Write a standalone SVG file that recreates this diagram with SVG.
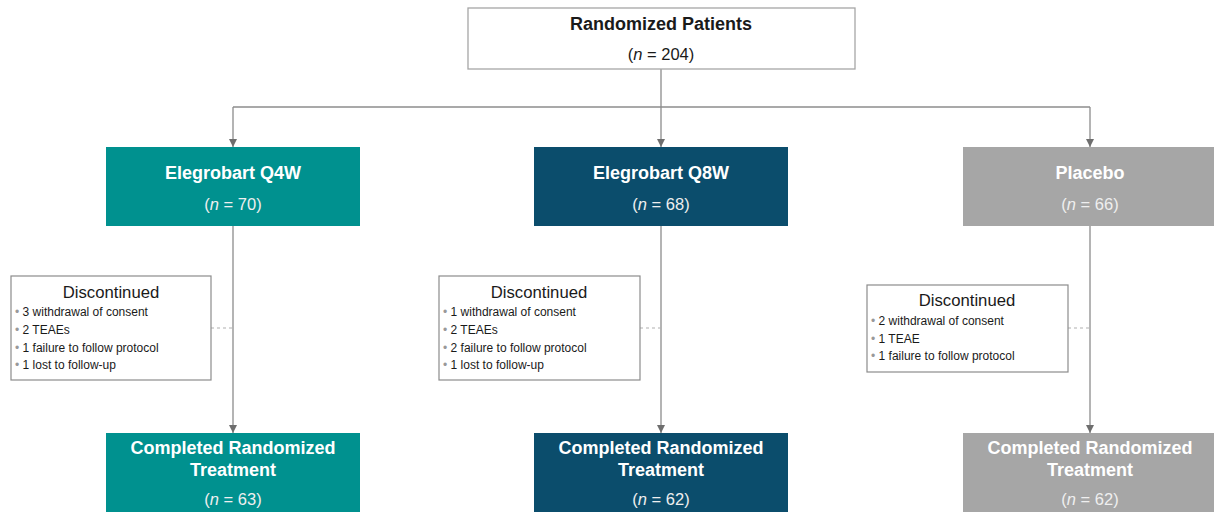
<svg xmlns="http://www.w3.org/2000/svg" width="1214" height="514" viewBox="0 0 1214 514">
<style>
text{font-family:"Liberation Sans",Arial,sans-serif}
.wb{fill:#fff;stroke:#a6a6a6;stroke-width:1.3}
.db{fill:#fff;stroke:#8c8c8c;stroke-width:1.2}
.teal{fill:#00918f}
.navy{fill:#0b4d6c}
.gray{fill:#a6a6a6}
.t1{font-size:18px;font-weight:bold;text-anchor:middle}
.t2{font-size:16.5px;text-anchor:middle}
.w{fill:#fff}
.k{fill:#1a1a1a}
.g{fill:#efefef}
.dh{font-size:16.7px;text-anchor:middle;fill:#1a1a1a}
.bl{font-size:12px;fill:#1a1a1a}
.bu{fill:#999}
.ln{stroke:#8c8c8c;stroke-width:1.3;fill:none}
.dash{stroke:#b0b0b0;stroke-width:1.2;stroke-dasharray:3 3;fill:none}
</style>
<defs>
<marker id="ah" viewBox="0 0 10 10" refX="10" refY="5" markerWidth="9" markerHeight="8" markerUnits="userSpaceOnUse" orient="auto">
<path d="M0,0 L10,5 L0,10 z" fill="#6e6e6e"/>
</marker>
</defs>
<g id="connectors">
<path class="ln" d="M661,69 V147" marker-end="url(#ah)"/>
<path class="ln" d="M233,107 H1090"/>
<path class="ln" d="M233,107 V147" marker-end="url(#ah)"/>
<path class="ln" d="M1090,107 V147" marker-end="url(#ah)"/>
<path class="ln" d="M233,226 V433" marker-end="url(#ah)"/>
<path class="ln" d="M661,226 V433" marker-end="url(#ah)"/>
<path class="ln" d="M1090,226 V433" marker-end="url(#ah)"/>
<path class="dash" d="M211,328 H233"/>
<path class="dash" d="M640,328 H661"/>
<path class="dash" d="M1068,328 H1090"/>
</g>
<g id="randomized">
<rect class="wb" x="468" y="8" width="387" height="61"/>
<text class="t1 k" x="661" y="30">Randomized Patients</text>
<text class="t2 k" x="661" y="60">(<tspan font-style="italic">n</tspan> = 204)</text>
</g>
<g id="q4w">
<rect class="teal" x="106" y="147" width="254" height="79"/>
<text class="t1 w" x="233" y="179">Elegrobart Q4W</text>
<text class="t2 g" x="233" y="210">(<tspan font-style="italic">n</tspan> = 70)</text>
</g>
<g id="q8w">
<rect class="navy" x="534" y="147" width="254" height="79"/>
<text class="t1 w" x="661" y="179">Elegrobart Q8W</text>
<text class="t2 g" x="661" y="210">(<tspan font-style="italic">n</tspan> = 68)</text>
</g>
<g id="placebo">
<rect class="gray" x="963" y="147" width="254" height="79"/>
<text class="t1 w" x="1090" y="179">Placebo</text>
<text class="t2 g" x="1090" y="210">(<tspan font-style="italic">n</tspan> = 66)</text>
</g>
<g id="disc-q4w">
<rect class="db" x="11" y="276" width="200" height="104"/>
<text class="dh" x="111" y="298">Discontinued</text>
<g class="bl">
<text x="15" y="316"><tspan class="bu">• </tspan>3 withdrawal of consent</text>
<text x="15" y="334"><tspan class="bu">• </tspan>2 TEAEs</text>
<text x="15" y="352"><tspan class="bu">• </tspan>1 failure to follow protocol</text>
<text x="15" y="369"><tspan class="bu">• </tspan>1 lost to follow-up</text>
</g>
</g>
<g id="disc-q8w">
<rect class="db" x="439" y="276" width="201" height="104"/>
<text class="dh" x="539" y="298">Discontinued</text>
<g class="bl">
<text x="443" y="316"><tspan class="bu">• </tspan>1 withdrawal of consent</text>
<text x="443" y="334"><tspan class="bu">• </tspan>2 TEAEs</text>
<text x="443" y="352"><tspan class="bu">• </tspan>2 failure to follow protocol</text>
<text x="443" y="369"><tspan class="bu">• </tspan>1 lost to follow-up</text>
</g>
</g>
<g id="disc-placebo">
<rect class="db" x="867" y="285" width="201" height="87"/>
<text class="dh" x="967" y="306">Discontinued</text>
<g class="bl">
<text x="871" y="325"><tspan class="bu">• </tspan>2 withdrawal of consent</text>
<text x="871" y="343"><tspan class="bu">• </tspan>1 TEAE</text>
<text x="871" y="360"><tspan class="bu">• </tspan>1 failure to follow protocol</text>
</g>
</g>
<g id="comp-q4w">
<rect class="teal" x="106" y="433" width="254" height="79"/>
<text class="t1 w" x="233" y="454">Completed Randomized</text>
<text class="t1 w" x="233" y="476">Treatment</text>
<text class="t2 g" x="233" y="505">(<tspan font-style="italic">n</tspan> = 63)</text>
</g>
<g id="comp-q8w">
<rect class="navy" x="534" y="433" width="254" height="79"/>
<text class="t1 w" x="661" y="454">Completed Randomized</text>
<text class="t1 w" x="661" y="476">Treatment</text>
<text class="t2 g" x="661" y="505">(<tspan font-style="italic">n</tspan> = 62)</text>
</g>
<g id="comp-placebo">
<rect class="gray" x="963" y="433" width="254" height="79"/>
<text class="t1 w" x="1090" y="454">Completed Randomized</text>
<text class="t1 w" x="1090" y="476">Treatment</text>
<text class="t2 g" x="1090" y="505">(<tspan font-style="italic">n</tspan> = 62)</text>
</g>
</svg>
